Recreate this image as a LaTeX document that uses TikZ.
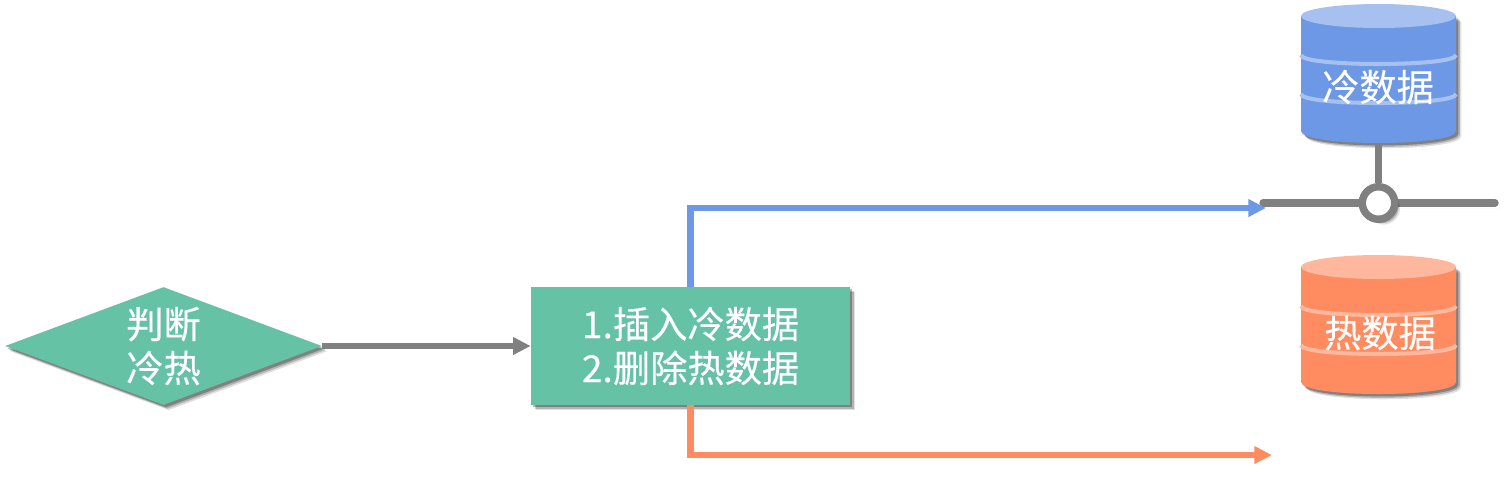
\documentclass[tikz,border=0pt]{standalone}
\usepackage{fontspec}
\usepackage{xcolor}
\usetikzlibrary{arrows.meta,shapes.geometric,shadows}
\newfontfamily\cjk[FakeBold=0.25]{Noto Sans CJK SC}

\definecolor{boxgreen}{HTML}{66C2A5}
\definecolor{coldblue}{HTML}{6D98E6}
\definecolor{coldlight}{HTML}{A6C0EF}
\definecolor{hotorange}{HTML}{FF8C61}
\definecolor{hotlight}{HTML}{FFB89E}
\definecolor{linegray}{HTML}{808080}

\tikzset{
  softshadow/.style={
    drop shadow={shadow xshift=3pt,shadow yshift=-3pt,fill=black,opacity=.12},
    drop shadow={shadow xshift=2.2pt,shadow yshift=-2.2pt,fill=black,opacity=.2},
    drop shadow={shadow xshift=1.4pt,shadow yshift=-1.4pt,fill=black,opacity=.28}},
  whitetext/.style={text=white,font=\cjk\fontsize{21.2}{25}\selectfont,align=center,inner sep=0pt},
  flowline/.style={line width=3.6pt,-{Triangle[length=10pt,width=9.5pt]}},
  busline/.style={draw=linegray,line width=4.2pt,line cap=round},
  pics/dbcan/.style 2 args={code={
    \fill[softshadow,fill=#1] (-77.5,0) -- (-77.5,115)
      .. controls (-77.5,131) and (77.5,131) .. (77.5,115) -- (77.5,0) -- cycle;
    \fill[#2] (0,0) ellipse [x radius=77.5,y radius=12];
    \draw[#2,line width=2.3pt] (-77.5,39) .. controls (-77.5,51) and (77.5,51) .. (77.5,39); % upper ring
    \draw[#2,line width=2.3pt] (-77.5,78) .. controls (-77.5,90) and (77.5,90) .. (77.5,78); % lower ring
    \coordinate (-base) at (0,127);
  }}
}

\begin{document}
\begin{tikzpicture}[x=0.02cm,y=-0.02cm] % one unit is one pixel of the reference
\useasboundingbox (0,0) rectangle (1510,487);

% left part
\node[diamond,fill=boxgreen,softshadow,whitetext,aspect=2.69,minimum width=6.34cm,minimum height=2.36cm] (judge) at (163.5,346) {判断\\冷热};
\node[rectangle,fill=boxgreen,softshadow,whitetext,minimum width=6.38cm,minimum height=2.36cm] (update) at (690.5,346) {1.插入冷数据\\2.删除热数据};
\draw[flowline,draw=linegray] (judge.east) -- (update.west);

% databases
\pic (cold) at (1378.5,16) {dbcan={coldblue}{coldlight}};
\pic (hot) at (1378.5,267) {dbcan={hotorange}{hotlight}};
\node[whitetext] (coldtext) at (1378,87) {冷数据};
\node[whitetext] (hottext) at (1380,333) {热数据};

% bus under the cold database
\coordinate (busleft) at (1263,203);
\coordinate (busright) at (1495,203);
\coordinate (coldin) at (1266,208);
\coordinate (hotin) at (1272,455);
\draw[busline,softshadow] (busleft) -- (busright);
\node[circle,draw=linegray,line width=4.25pt,fill=white,inner sep=0pt,minimum size=0.65cm,softshadow] (hub) at (1378.5,203) {};
\draw[busline,line cap=butt] (cold-base) -- (hub);

% the two outputs
\draw[flowline,draw=coldblue] (update.north) |- (coldin);
\draw[flowline,draw=hotorange] (update.south) |- (hotin);
\end{tikzpicture}
\end{document}
